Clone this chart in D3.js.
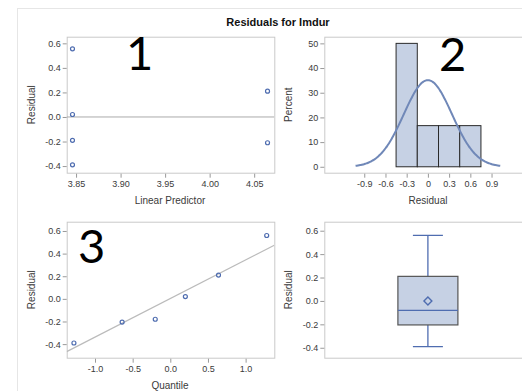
<!DOCTYPE html>
<html><head><meta charset="utf-8">
<script src="https://cdn.jsdelivr.net/npm/d3@7"></script>
<style>
html,body{margin:0;padding:0;background:#fff;}
svg{display:block;font-family:"Liberation Sans",Arial,sans-serif;}
</style></head>
<body>
<svg id="c" width="522" height="391"></svg>
<script>
// ---- data ----
const fittedValues = [3.846, 3.846, 3.846, 3.846, 4.065, 4.065];
const fitResiduals = [0.555, 0.02, -0.19, -0.39, 0.21, -0.21];

const binEdges = [-0.45, -0.15, 0.15, 0.45, 0.75];
const binPercents = [50, 16.67, 16.67, 16.67];
const normMean = 0.0;
const normSd = 0.341;

const normalQuantiles = [-1.28, -0.64, -0.20, 0.20, 0.64, 1.28];
const sortedResiduals = [-0.39, -0.205, -0.18, 0.02, 0.21, 0.56];
const refIntercept = 0.003;
const refSlope = 0.341;

const boxCategory = ["Residual"];
const boxStats = {min: -0.39, q1: -0.205, median: -0.08, q3: 0.21, max: 0.56, mean: 0.0};

const ticks1x = [3.85, 3.90, 3.95, 4.00, 4.05];
const ticksResid = [-0.4, -0.2, 0.0, 0.2, 0.4, 0.6];
const ticks2x = [-0.9, -0.6, -0.3, 0, 0.3, 0.6, 0.9];
const ticks2y = [0, 10, 20, 30, 40, 50];
const ticks3x = [-1.0, -0.5, 0.0, 0.5, 1.0];

// ---- drawing ----
const svg = d3.select("#c");
const FRAME = "#c9c9c9", TXT = "#3a3a3a", BLUE = "#4f6db0", FILL = "#c6d1e4", CURVE = "#7088b8";
const hy = s => s.replace("\u2212", "-");
const f1 = d => hy(d3.format(".1f")(d));
const f2 = d => hy(d3.format(".2f")(d));
const fg = d => hy(d3.format("")(d));

// outer frame
svg.append("line").attr("x1",17).attr("x2",522).attr("y1",8.5).attr("y2",8.5).attr("stroke","#e6e6e6");
svg.append("line").attr("x1",17.5).attr("x2",17.5).attr("y1",8).attr("y2",391).attr("stroke","#e6e6e6");

svg.append("text").attr("x",278).attr("y",26).attr("text-anchor","middle")
  .attr("font-size",11).attr("font-weight","bold").attr("fill","#111").text("Residuals for Imdur");

function panel(o){
  const g = svg.append("g");
  const x = o.x, y = o.y;
  const [x0,x1] = x.range(), [y1,y0] = y.range();
  g.append("rect").attr("x",x0+0.5).attr("y",y0+0.5).attr("width",x1-x0).attr("height",y1-y0)
    .attr("fill","#fff").attr("stroke",FRAME);
  const ya = d3.axisLeft(y).tickValues(o.yt).tickFormat(o.yf).tickSize(4).tickPadding(2);
  const gy = g.append("g").attr("transform",`translate(${x0},0)`).call(ya);
  style(gy);
  if(o.xt){
    const xa = d3.axisBottom(x).tickValues(o.xt).tickFormat(o.xf).tickSize(4).tickPadding(3);
    const gx = g.append("g").attr("transform",`translate(0,${y1+1})`).call(xa);
    style(gx);
    g.append("text").attr("x",o.xlX).attr("y",y1+31).attr("text-anchor","middle")
      .attr("font-size",10).attr("fill",TXT).text(o.xl);
  }
  g.append("text").attr("transform",`translate(${x0-32},${(y0+y1)/2}) rotate(-90)`)
    .attr("text-anchor","middle").attr("font-size",10).attr("fill",TXT).text(o.yl);
  const clipId = "clip"+Math.random().toString(36).slice(2);
  g.append("clipPath").attr("id",clipId).append("rect").attr("x",x0).attr("y",y0).attr("width",x1-x0).attr("height",y1-y0);
  return g.append("g").attr("clip-path",`url(#${clipId})`);
}
function style(a){
  a.select(".domain").remove();
  a.selectAll(".tick line").attr("stroke","#999");
  a.selectAll(".tick text").attr("fill",TXT).attr("font-size",9).attr("font-family","'Liberation Sans',Arial,sans-serif");
}

// Panel 1
const x1s = d3.scaleLinear().domain([3.8395, 4.0726]).range([66.7, 274.3]);
const y1s = d3.scaleLinear().domain([-0.454, 0.654]).range([172.7, 36.7]);
const p1 = panel({x:x1s,y:y1s,xt:ticks1x,xf:f2,yt:ticksResid,yf:f1,xl:"Linear Predictor",yl:"Residual",xlX:170});
p1.append("line").attr("x1",x1s.range()[0]).attr("x2",x1s.range()[1]).attr("y1",y1s(0)).attr("y2",y1s(0)).attr("stroke","#aaa");
p1.selectAll("circle").data(fittedValues).join("circle")
  .attr("cx",d=>x1s(d)).attr("cy",(d,i)=>y1s(fitResiduals[i])).attr("r",2)
  .attr("fill","none").attr("stroke",BLUE).attr("stroke-width",1.2);

// Panel 2
const x2s = d3.scaleLinear().domain([-1.465, 1.465]).range([324.3, 531.5]);
const y2s = d3.scaleLinear().domain([-2.4, 52.7]).range([172.7, 36.7]);
const p2 = panel({x:x2s,y:y2s,xt:ticks2x,xf:fg,yt:ticks2y,yf:fg,xl:"Residual",yl:"Percent",xlX:428});
p2.selectAll("rect.bar").data(binPercents).join("rect").attr("class","bar")
  .attr("x",(d,i)=>x2s(binEdges[i])).attr("width",(d,i)=>x2s(binEdges[i+1])-x2s(binEdges[i]))
  .attr("y",d=>y2s(d)).attr("height",d=>y2s(0)-y2s(d))
  .attr("fill",FILL).attr("stroke","#2a2a2a").attr("stroke-width",1);
const binW = binEdges[1]-binEdges[0];
const curveX = d3.range(normMean-3*normSd, normMean+3*normSd+1e-9, normSd/20);
const dens = v => 100*binW*Math.exp(-0.5*((v-normMean)/normSd)**2)/(normSd*Math.sqrt(2*Math.PI));
p2.append("path").datum(curveX).attr("fill","none").attr("stroke",CURVE).attr("stroke-width",2)
  .attr("d",d3.line().x(d=>x2s(d)).y(d=>y2s(dens(d))).curve(d3.curveBasis));

// Panel 3
const x3s = d3.scaleLinear().domain([-1.376, 1.381]).range([66.7, 274.3]);
const y3s = d3.scaleLinear().domain([-0.52, 0.682]).range([357.7, 221.7]);
const p3 = panel({x:x3s,y:y3s,xt:ticks3x,xf:f1,yt:ticksResid,yf:f1,xl:"Quantile",yl:"Residual",xlX:170});
const xd = x3s.domain();
p3.append("line").attr("x1",x3s(xd[0])).attr("x2",x3s(xd[1]))
  .attr("y1",y3s(refIntercept+refSlope*xd[0])).attr("y2",y3s(refIntercept+refSlope*xd[1]))
  .attr("stroke","#bbb").attr("stroke-width",1.2);
p3.selectAll("circle").data(normalQuantiles).join("circle")
  .attr("cx",d=>x3s(d)).attr("cy",(d,i)=>y3s(sortedResiduals[i])).attr("r",2)
  .attr("fill","none").attr("stroke",BLUE).attr("stroke-width",1.2);

// Panel 4
const x4s = d3.scalePoint().domain(boxCategory).range([324.3, 531.5]).padding(0.5);
const y4s = d3.scaleLinear().domain([-0.485, 0.677]).range([357.7, 221.7]);
const p4 = panel({x:x4s,y:y4s,yt:ticksResid,yf:f1,yl:"Residual"});
const cx = x4s(boxCategory[0]), bw = 60, cw = 30;
p4.append("line").attr("x1",cx).attr("x2",cx).attr("y1",y4s(boxStats.max)).attr("y2",y4s(boxStats.q3)).attr("stroke",BLUE).attr("stroke-width",1.3);
p4.append("line").attr("x1",cx).attr("x2",cx).attr("y1",y4s(boxStats.min)).attr("y2",y4s(boxStats.q1)).attr("stroke",BLUE).attr("stroke-width",1.3);
[boxStats.max, boxStats.min].forEach(v=>p4.append("line").attr("x1",cx-cw/2).attr("x2",cx+cw/2).attr("y1",y4s(v)).attr("y2",y4s(v)).attr("stroke",BLUE).attr("stroke-width",1.3));
p4.append("rect").attr("x",cx-bw/2).attr("width",bw).attr("y",y4s(boxStats.q3)).attr("height",y4s(boxStats.q1)-y4s(boxStats.q3))
  .attr("fill",FILL).attr("stroke","#555").attr("stroke-width",1.2);
p4.append("line").attr("x1",cx-bw/2).attr("x2",cx+bw/2).attr("y1",y4s(boxStats.median)).attr("y2",y4s(boxStats.median)).attr("stroke",BLUE).attr("stroke-width",1.3);
p4.append("path").attr("d",d3.symbol().type(d3.symbolDiamond2).size(40)())
  .attr("transform",`translate(${cx},${y4s(boxStats.mean)})`).attr("fill","none").attr("stroke",BLUE).attr("stroke-width",1.4);

// annotations
const ann = [["1",126,70],["2",439,71],["3",78,263]];
svg.selectAll("text.ann").data(ann).join("text").attr("class","ann")
  .attr("x",d=>d[1]).attr("y",d=>d[2]).attr("font-size",47).attr("font-family","Lato, 'Open Sans', sans-serif")
  .attr("fill","#000").text(d=>d[0]);
</script>
</body></html>
